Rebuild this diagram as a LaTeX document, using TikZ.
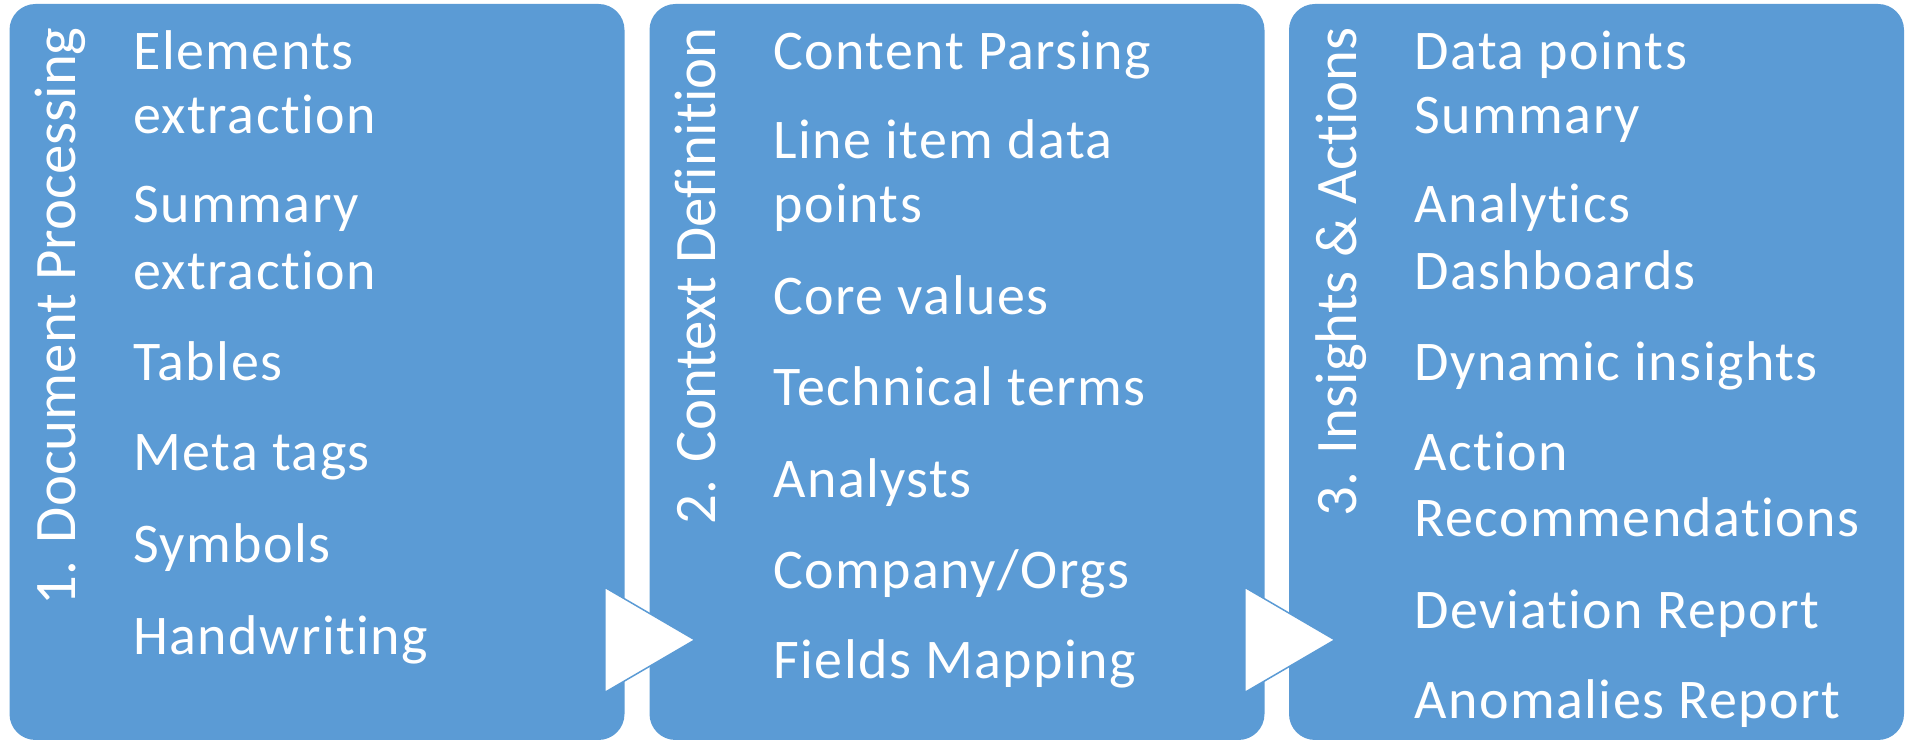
\documentclass[tikz,border=0pt]{standalone}
\usepackage{fontspec}
\setmainfont[Ligatures=NoCommon]{Carlito}
\newfontfamily\entryfont[LetterSpace=2.6, Ligatures=NoCommon]{Carlito}
\usetikzlibrary{positioning, calc}
\definecolor{panelblue}{HTML}{5B9BD5}

\tikzset{
	panel/.style={fill=panelblue, rounded corners=13pt, minimum width=307.5pt, minimum height=368pt, inner sep=0pt},
	heading/.style={text=white, rotate=90, anchor=base east, inner sep=0pt, font=\fontsize{29.4}{30}\selectfont},
	entry/.style={text=white, anchor=base west, inner sep=0pt, font=\entryfont\fontsize{28}{32}\selectfont},
	chevron/.style={fill=white, draw=panelblue, line width=0.75pt, line join=miter}
}

\begin{document}
\begin{tikzpicture}[x=0.5pt, y=0.5pt]
	\useasboundingbox (0,0) rectangle (1906,742);
	\node [panel] (p1) at (317,370) {};
	\node [panel] (p2) at (957,370) {};
	\node [panel] (p3) at (1596.5,370) {};
	\draw [chevron] ($(p1.south east)+(-20,153)$) -- ($(p1.south east)+(70,100.5)$) -- ($(p1.south east)+(-20,48)$) -- cycle;
	\draw [chevron] ($(p2.south east)+(-20,153)$) -- ($(p2.south east)+(70,100.5)$) -- ($(p2.south east)+(-20,48)$) -- cycle;
	% headings
	\node [heading] (h1) at (75,715) {1. Document Processing};
	\node [heading] (h2) at (715,715) {2. Context Definition};
	\node [heading] (h3) at (1356,715) {3. Insights \& Actions};
	% first panel
	\node [entry] (e1a) at (133,672) {Elements};
	\node [entry] (e1b) at (133,608) {extraction};
	\node [entry] (e2a) at (133,519) {Summary};
	\node [entry] (e2b) at (133,452) {extraction};
	\node [entry] (e3) at (133,361) {Tables};
	\node [entry] (e4) at (133,271) {Meta tags};
	\node [entry] (e5) at (133,179) {Symbols};
	\node [entry] (e6) at (133,87) {Handwriting};
	% second panel
	\node [entry] (c1) at (773,672) {Content Parsing};
	\node [entry] (c2a) at (773,583.5) {Line item data};
	\node [entry] (c2b) at (773,519.5) {points};
	\node [entry] (c3) at (773,427) {Core values};
	\node [entry] (c4) at (773,336) {Technical terms};
	\node [entry] (c5) at (773,244) {Analysts};
	\node [entry] (c6) at (773,153) {Company/Orgs};
	\node [entry] (c7) at (773,63) {Fields Mapping};
	% third panel
	\node [entry] (i1a) at (1414,672) {Data points};
	\node [entry] (i1b) at (1414,608) {Summary};
	\node [entry] (i2a) at (1414,519) {Analytics};
	\node [entry] (i2b) at (1414,452) {Dashboards};
	\node [entry] (i3) at (1414,361) {Dynamic insights};
	\node [entry] (i4a) at (1414,271) {Action};
	\node [entry] (i4b) at (1414,205) {Recommendations};
	\node [entry] (i5) at (1414,113) {Deviation Report};
	\node [entry] (i6) at (1414,23) {Anomalies Report};
\end{tikzpicture}
\end{document}
